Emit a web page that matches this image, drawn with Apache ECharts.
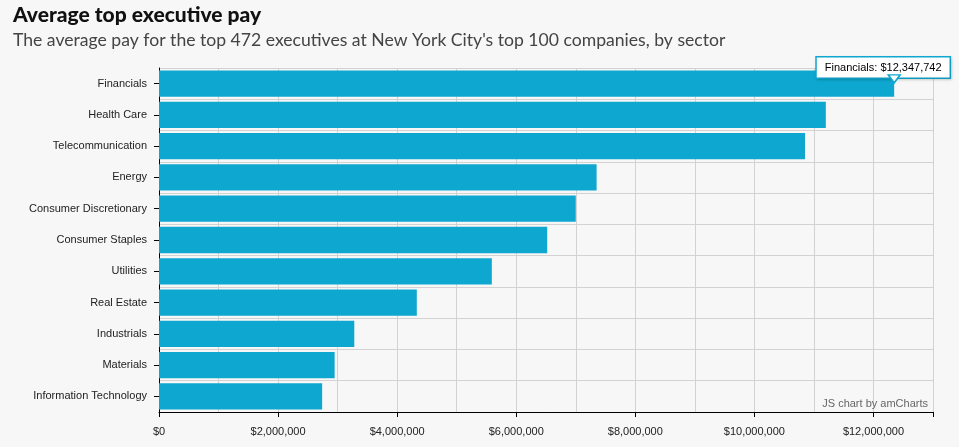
<!DOCTYPE html>
<html><head><meta charset="utf-8">
<script src="https://cdn.jsdelivr.net/npm/echarts@6/dist/echarts.min.js"></script>
<style>html,body{margin:0;padding:0;background:#f7f7f7;}#c{width:959px;height:447px;}</style>
</head><body><div id="c"></div>
<script>
const categories = ["Financials","Health Care","Telecommunication","Energy","Consumer Discretionary","Consumer Staples","Utilities","Real Estate","Industrials","Materials","Information Technology"];
const pay = [12347742, 11200000, 10850000, 7350000, 7000000, 6520000, 5590000, 4330000, 3280000, 2950000, 2740000];
const titleText = "Average top executive pay";
const subtitleText = "The average pay for the top 472 executives at New York City's top 100 companies, by sector";
const creditText = "JS chart by amCharts";

function money(v){ return '$' + Math.round(v).toString().replace(/\B(?=(\d{3})+(?!\d))/g, ','); }
const barColor = '#0ea7cf';
const chart = echarts.init(document.getElementById('c'), null, {renderer:'canvas'});
const data = pay.map((v,i)=> i===0 ? {
  value: v,
  label: {
    show: true, position: ['100%', 0], offset: [-11, -3], align: 'center', verticalAlign: 'middle',
    formatter: p => categories[p.dataIndex] + ': ' + money(p.value),
    backgroundColor: '#fff', borderColor: barColor, borderWidth: 1.5,
    padding: [5, 8, 4, 8], color: '#000', fontFamily: 'Liberation Sans, Arial', fontSize: 11,
    shadowColor: 'rgba(0,0,0,0.15)', shadowBlur: 3, shadowOffsetX: 1, shadowOffsetY: 1
  }
} : v);
chart.setOption({
  backgroundColor: '#f7f7f7',
  animation: false,
  title: [
    {text: titleText, left: 13, top: 5, padding: 0, textStyle: {fontFamily: 'Lato', fontWeight: 900, fontSize: 21, color: '#111'}},
    {text: subtitleText, left: 13, top: 31, padding: 0, textStyle: {fontFamily: 'Lato', fontWeight: 'normal', fontSize: 17.6, color: '#444'}},
    {text: creditText, right: 31, top: 398, padding: 0, textStyle: {fontFamily: 'Liberation Sans, Arial', fontWeight: 'normal', fontSize: 11, color: '#666'}}
  ],
  grid: {left: 159, right: 26, top: 68, bottom: 35},
  xAxis: [
    {type: 'value', position: 'top', min: 0, max: 13000000, interval: 1000000,
     axisLine: {show: false}, axisTick: {show: false}, axisLabel: {show: false},
     splitLine: {show: true, lineStyle: {color: '#d2d2d2', width: 1}}},
    {type: 'value', position: 'bottom', min: 0, max: 13000000, interval: 2000000,
     axisLine: {show: true, lineStyle: {color: '#000', width: 1}},
     axisTick: {show: true, length: 5, lineStyle: {color: '#000'}},
     axisLabel: {margin: 14, fontFamily: 'Liberation Sans, Arial', fontSize: 11, color: '#222',
       formatter: v => (v % 2000000 === 0 ? money(v) : '')},
     splitLine: {show: false}}
  ],
  yAxis: {
    type: 'category', data: categories, inverse: true,
    axisLine: {show: true, lineStyle: {color: '#000'}},
    axisTick: {show: true, alignWithLabel: true, length: 5, lineStyle: {color: '#000'}},
    axisLabel: {margin: 12, fontFamily: 'Liberation Sans, Arial', fontSize: 11, color: '#222'},
    splitLine: {show: true, lineStyle: {color: '#d2d2d2'}}
  },
  series: [{
    type: 'bar', xAxisIndex: 0, data: data, barCategoryGap: '16%',
    itemStyle: {color: barColor},
    markPoint: {
      silent: true,
      symbol: 'triangle', symbolRotate: 180, symbolSize: [12, 8], symbolOffset: [0, '-60%'],
      itemStyle: {color: '#fff', borderColor: barColor, borderWidth: 1.5},
      label: {show: false},
      data: [{coord: [pay[0], categories[0]]}]
    }
  }]
});
</script></body></html>
